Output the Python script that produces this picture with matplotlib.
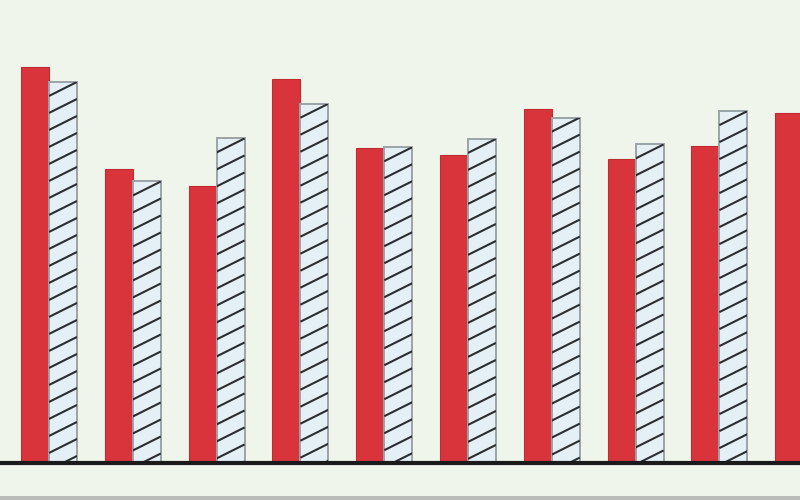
import numpy as np
import matplotlib
matplotlib.use("Agg")
import matplotlib.pyplot as plt

# values (0-100 scale, baseline = 0)
groups = list(range(10))
red_vals = [85.6, 63.4, 59.8, 83.0, 68.0, 66.6, 76.4, 65.6, 68.4, 75.7]
hatch_vals = [82.3, 60.8, 70.1, 77.6, 68.2, 70.0, 74.6, 68.8, 76.0, 72.0]

bg = "#eff5eb"
red = "#d9343c"
pale = "#e4eff6"

fig = plt.figure(figsize=(8, 5), dpi=100, facecolor=bg)
ax = fig.add_axes([0, 37 / 500, 1, 463 / 500])
ax.set_facecolor(bg)

x = np.array(groups, dtype=float)
w = 0.334
ax.bar(x - w / 2, red_vals, width=w, color=red, edgecolor="#c02b32",
       linewidth=0.8, zorder=2)
hbars = ax.bar(x + w / 2, hatch_vals, width=w, color=pale, edgecolor="#9aa3a7",
               linewidth=1.4, zorder=2)

ax.set_xlim(-0.585, 8.962)
ax.set_ylim(0, 100)

# custom shallow diagonal hatch, lines start at each bar's top-right corner
px_x = 1 / 83.8          # data units per pixel, x
px_y = 100 / 463         # data units per pixel, y
step = 17 * px_y
slope = 0.5 * px_y / px_x
for b in hbars:
    x0, x1 = b.get_x(), b.get_x() + b.get_width()
    top = b.get_height()
    y_r = top
    while y_r > -step * 3:
        y_l = y_r - slope * (x1 - x0)
        ln, = ax.plot([x0, x1], [y_l, y_r], color="#2a2e30", lw=1.5,
                      zorder=3, solid_capstyle="butt")
        ln.set_clip_path(b)
        y_r -= step

ax.axhline(0, color="#1a1a1a", lw=3, zorder=4, clip_on=False)
for s in ax.spines.values():
    s.set_visible(False)
ax.set_xticks([])
ax.set_yticks([])

# grey strip at the very bottom
fig.add_artist(plt.Rectangle((0, 0), 1, 4 / 500, transform=fig.transFigure,
                             color="#b9bcb8", lw=0))

fig.savefig("out.png", dpi=100, facecolor=bg)
